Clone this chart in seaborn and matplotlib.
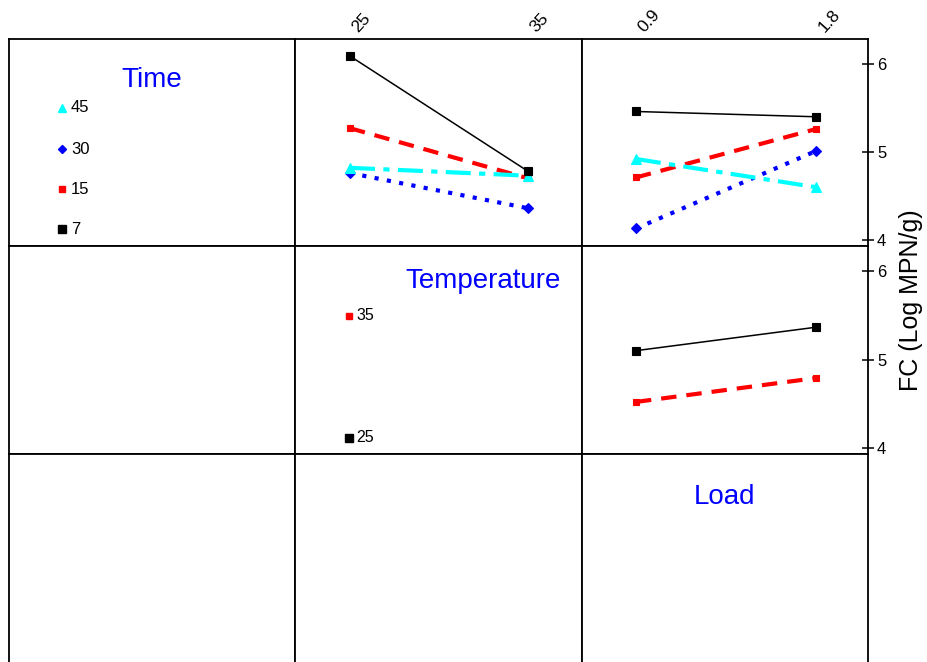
import matplotlib
matplotlib.use("Agg")
import matplotlib.pyplot as plt
import matplotlib.transforms as mtransforms
from matplotlib.lines import Line2D
import seaborn as sns

# Factor levels
temps = [25, 35]
loads = [0.9, 1.8]
times = [7, 15, 30, 45]

# Mean FC (Log MPN/g) for each Time level across Temperature
time7_by_temp = [6.09, 4.78]
time15_by_temp = [5.27, 4.70]
time30_by_temp = [4.76, 4.36]
time45_by_temp = [4.82, 4.73]

# Mean FC for each Time level across Load
time7_by_load = [5.46, 5.40]
time15_by_load = [4.71, 5.26]
time30_by_load = [4.13, 5.01]
time45_by_load = [4.92, 4.60]

# Mean FC for each Temperature level across Load
temp25_by_load = [5.10, 5.365]
temp35_by_load = [4.52, 4.79]

y_ticks = [4, 5, 6]
temp_tick_labels = ["25", "35"]
load_tick_labels = ["0.9", "1.8"]

sns.set_style("white")
plt.rcParams["font.family"] = ["Liberation Sans", "DejaVu Sans"]
plt.rcParams["text.color"] = "black"
plt.rcParams["xtick.color"] = "black"
plt.rcParams["ytick.color"] = "black"
plt.rcParams["axes.labelcolor"] = "black"

W, H = 927, 662
fig = plt.figure(figsize=(W / 100, H / 100), dpi=100)

col_x = [9, 295, 582, 868]
row_y = [39, 246, 454, 664]

# line styles per level: colour, width, dash pattern, marker, marker size
styles = {
    7: dict(color="#000000", lw=1.1, ls="-", marker="s", ms=6, z=5),
    15: dict(color="#FF0000", lw=3.0, ls=(0, (3.7, 2.4)), marker="s", ms=5, z=3),
    30: dict(color="#0000FF", lw=3.0, ls=(0, (1, 2)), marker="D", ms=5, z=2),
    45: dict(color="#00FFFF", lw=3.0, ls=(0, (6, 2, 1.5, 2)), marker="^", ms=6.5, z=4),
}
temp_styles = {25: styles[7], 35: styles[15]}

YLIM = (3.931, 6.284)
TEMP_LIM = (21.91, 38.03)
LOAD_LIM = (0.630, 2.061)

axes = {}
for r in range(3):
    for c in range(3):
        left = col_x[c] / W
        width = (col_x[c + 1] - col_x[c]) / W
        bottom = 1 - row_y[r + 1] / H
        height = (row_y[r + 1] - row_y[r]) / H
        ax = fig.add_axes([left, bottom, width, height])
        ax.set_xticks([])
        ax.set_yticks([])
        for sp in ax.spines.values():
            sp.set_color("black")
            sp.set_linewidth(1.3)
        ax.set_ylim(*YLIM)
        axes[(r, c)] = ax


def draw(ax, xs, ys, st):
    sns.lineplot(x=xs, y=ys, ax=ax, color=st["color"], lw=st["lw"],
                 linestyle=st["ls"], marker=st["marker"], markersize=st["ms"],
                 markeredgecolor=st["color"], markeredgewidth=0.8,
                 errorbar=None, sort=False, zorder=st["z"])


# Time x Temperature
ax = axes[(0, 1)]
for t, vals in zip(times, [time7_by_temp, time15_by_temp, time30_by_temp, time45_by_temp]):
    draw(ax, temps, vals, styles[t])

# Time x Load
ax = axes[(0, 2)]
for t, vals in zip(times, [time7_by_load, time15_by_load, time30_by_load, time45_by_load]):
    draw(ax, loads, vals, styles[t])

# Temperature x Load
ax = axes[(1, 2)]
for t, vals in zip(temps, [temp25_by_load, temp35_by_load]):
    draw(ax, loads, vals, temp_styles[t])
axes[(1, 2)].set_xlim(*LOAD_LIM)

# Top tick labels
shift = mtransforms.ScaledTranslation(5 / 100, 2 / 100, fig.dpi_scale_trans)
for c, xt, lab, lim in [(1, temps, temp_tick_labels, TEMP_LIM), (2, loads, load_tick_labels, LOAD_LIM)]:
    ax = axes[(0, c)]
    ax.set_xlim(*lim)
    ax.xaxis.tick_top()
    ax.set_xticks(xt)
    ax.set_xticklabels(lab, rotation=48, rotation_mode="anchor", ha="left", va="center")
    ax.tick_params(axis="x", length=0, pad=5, labelsize=12.5, labelcolor="black")
    for lbl in ax.get_xticklabels():
        lbl.set_transform(lbl.get_transform() + shift)

# Right y ticks
for r in (0, 1):
    ax = axes[(r, 2)]
    ax.yaxis.tick_right()
    ax.set_yticks(y_ticks)
    ax.set_yticklabels([str(v) for v in y_ticks])
    ax.tick_params(axis="y", direction="inout", length=9, width=1.1, pad=2, labelsize=12,
                   color="black", labelcolor="black")

for ax in axes.values():
    ax.set_xlabel("")
    ax.set_ylabel("")


def fx(px):
    return px / W


def fy(py):
    return 1 - py / H


BLUE = "#0000FF"

# Diagonal panel titles
fig.text(fx(152), fy(80), "Time", color=BLUE, fontsize=20, ha="center", va="center")
fig.text(fx(483), fy(281), "Temperature", color=BLUE, fontsize=20, ha="center", va="center")
fig.text(fx(724), fy(497), "Load", color=BLUE, fontsize=20, ha="center", va="center")

# Level keys
key_time = [(45, 108), (30, 149), (15, 189), (7, 229)]
for lvl, py in key_time:
    st = styles[lvl]
    fig.add_artist(Line2D([fx(62)], [fy(py)], transform=fig.transFigure, marker=st["marker"],
                          markersize=st["ms"] * 0.85, color=st["color"], markeredgecolor=st["color"],
                          linestyle="none"))
    fig.text(fx(71), fy(py), str(lvl), fontsize=12, ha="left", va="center", color="black")

key_temp = [(35, 316), (25, 438)]
for lvl, py in key_temp:
    st = temp_styles[lvl]
    fig.add_artist(Line2D([fx(349)], [fy(py)], transform=fig.transFigure, marker=st["marker"],
                          markersize=st["ms"] * 0.85, color=st["color"], markeredgecolor=st["color"],
                          linestyle="none"))
    fig.text(fx(356), fy(py), str(lvl), fontsize=11.5, ha="left", va="center", color="black")

fig.text(fx(911), fy(300), "FC (Log MPN/g)", rotation=90, fontsize=18, ha="center", va="center",
         color="black")

fig.savefig("out.png", dpi=100)
